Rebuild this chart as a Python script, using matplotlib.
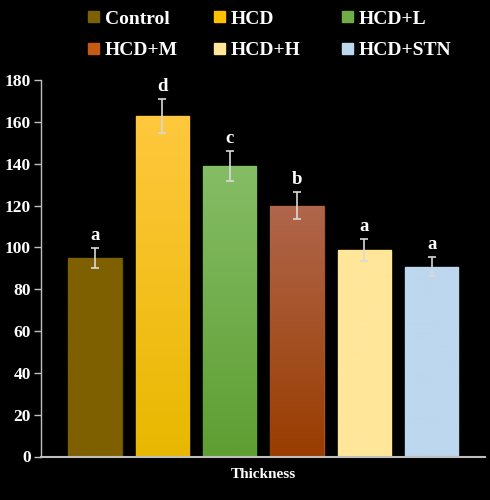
import numpy as np
import matplotlib
matplotlib.use("Agg")
import matplotlib.pyplot as plt
from matplotlib.colors import LinearSegmentedColormap
from matplotlib.patches import Patch

groups = ["Control", "HCD", "HCD+L", "HCD+M", "HCD+H", "HCD+STN"]
values = [95, 162.7, 138.7, 120, 98.6, 90.8]
errors = [4.8, 8.2, 7.2, 6.3, 5.2, 4.7]
letters = ["a", "d", "c", "b", "a", "a"]
yticks = [0, 20, 40, 60, 80, 100, 120, 140, 160, 180]
xlabel = "Thickness"

top_colors = ["#7F6000", "#FFC83E", "#85BD66", "#B0664C", "#FFE699", "#BDD7EE"]
bot_colors = ["#7F6000", "#E8B800", "#5E9E32", "#993D00", "#FFE699", "#BDD7EE"]
legend_colors = ["#7F6000", "#FFC000", "#70AD47", "#C55A11", "#FFE699", "#BDD7EE"]
edge_colors = ["#6B5200", "#F0C040", "#6FAE50", "#A85030", "#F5DC90", "#B0CCE6"]

plt.rcParams["font.family"] = ["Liberation Serif", "DejaVu Serif"]
plt.rcParams["font.weight"] = "bold"

fig = plt.figure(figsize=(4.9, 5.0), dpi=100, facecolor="black")
ax = fig.add_axes([0.083, 0.087, 0.907, 0.753], facecolor="black")

x = np.arange(len(groups))
width = 0.79
bars = ax.bar(x, values, width=width, color=top_colors, edgecolor=edge_colors, linewidth=1, zorder=2)

for i, b in enumerate(bars):
    cmap = LinearSegmentedColormap.from_list("g%d" % i, [bot_colors[i], top_colors[i]])
    grad = np.linspace(0, 1, 256).reshape(-1, 1)
    x0, y0 = b.get_x(), b.get_y()
    im = ax.imshow(grad, cmap=cmap, origin="lower", aspect="auto",
                   extent=[x0, x0 + b.get_width(), y0, y0 + b.get_height()], zorder=2.5)
    im.set_clip_path(b)

ax.errorbar(x, values, yerr=errors, fmt="none", ecolor="#D9D9D9", elinewidth=1.2,
            capsize=3, capthick=1.2, zorder=4)

for xi, v, e, l in zip(x, values, errors, letters):
    ax.annotate(l, (xi, v + e), xytext=(0, 3), textcoords="offset points",
                ha="center", va="bottom", color="white", fontsize=13.5, fontweight="bold")

ax.set_xlim(-0.806, 5.79)
ax.set_ylim(0, 180)
ax.set_yticks(yticks)
ax.set_yticklabels([str(t) for t in yticks])
ax.set_xticks([])
ax.tick_params(axis="y", colors="white", labelsize=12.5, direction="out", length=5, width=1, pad=2)
for lab in ax.get_yticklabels():
    lab.set_fontweight("bold")
    lab.set_color("white")
ax.tick_params(axis="y", color="#BFBFBF")
for s in ["top", "right"]:
    ax.spines[s].set_visible(False)
ax.spines["left"].set_color("#BFBFBF")
ax.spines["bottom"].set_color("#BFBFBF")
ax.spines["left"].set_linewidth(1)
ax.spines["bottom"].set_linewidth(1.5)
ax.set_xlabel(xlabel, color="white", fontsize=11, fontweight="bold", labelpad=8)

handles = [Patch(facecolor=c, edgecolor=c) for c in legend_colors]
col_x = [0.18, 0.437, 0.698]
for c in range(3):
    idx = [c, c + 3]
    leg = fig.legend([handles[i] for i in idx], [groups[i] for i in idx], ncol=1,
                     loc="upper left", bbox_to_anchor=(col_x[c], 0.979), frameon=False,
                     prop={"family": ["Liberation Serif"], "weight": "bold", "size": 14},
                     handlelength=0.55, handleheight=0.55, handletextpad=0.3,
                     labelspacing=0.76, borderpad=0, borderaxespad=0)
    for t in leg.get_texts():
        t.set_color("white")

fig.savefig("out.png", dpi=100, facecolor="black")
